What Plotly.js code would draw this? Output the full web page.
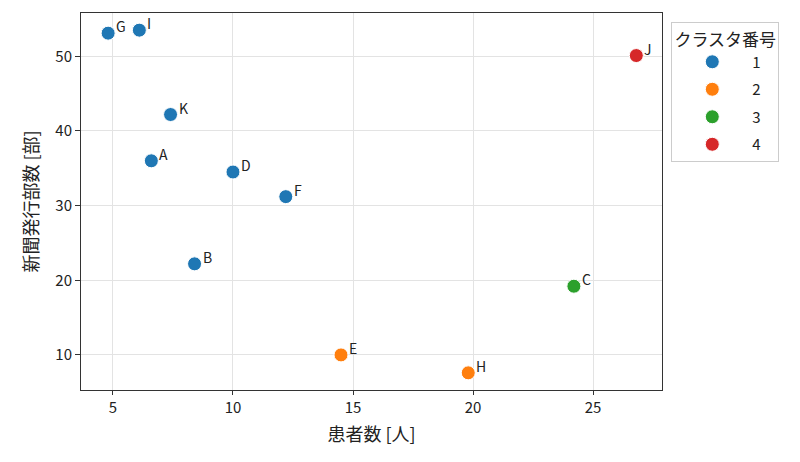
<!DOCTYPE html>
<html>
<head>
<meta charset="utf-8">
<script src="https://cdn.plot.ly/plotly-3.0.1.min.js"></script>
<style>
  body { margin: 0; background: #fff; }
  #chart { width: 800px; height: 462px; }
</style>
</head>
<body>
<div id="chart"></div>
<script>
const names = ['A', 'B', 'C', 'D', 'E', 'F', 'G', 'H', 'I', 'J', 'K'];
const patients = [6.6, 8.4, 24.2, 10.0, 14.5, 12.2, 4.8, 19.8, 6.1, 26.8, 7.4];
const copies = [36.0, 22.2, 19.2, 34.5, 10.0, 31.2, 53.1, 7.6, 53.5, 50.1, 42.2];
const clusters = [1, 1, 3, 1, 2, 1, 1, 2, 1, 4, 1];
const clusterIds = [1, 2, 3, 4];
const clusterColors = ['#1f77b4', '#ff7f0e', '#2ca02c', '#d62728'];

const font = '"Noto Sans CJK JP", "DejaVu Sans", sans-serif';

const traces = clusterIds.map((c, i) => {
  const idx = clusters.map((k, j) => k === c ? j : -1).filter(j => j >= 0);
  return {
    x: idx.map(j => patients[j]),
    y: idx.map(j => copies[j]),
    name: String(c),
    legendgroup: 'g' + c,
    type: 'scatter',
    mode: 'markers',
    cliponaxis: false,
    marker: { color: clusterColors[i], size: 14, line: { color: '#fff', width: 1 } },
  };
});

// point labels, placed just right of and above each marker
const annotations = names.map((n, j) => ({
  x: patients[j],
  y: copies[j],
  text: n,
  showarrow: false,
  xanchor: 'left',
  yanchor: 'middle',
  xshift: 6,
  yshift: 7,
  font: { family: font, size: 14, color: '#222' },
}));

const layout = {
  width: 800,
  height: 462,
  margin: { l: 81, r: 138, t: 13, b: 72 },
  paper_bgcolor: '#fff',
  plot_bgcolor: '#fff',
  font: { family: font, size: 14, color: '#222' },
  showlegend: true,
  annotations: annotations,
  xaxis: {
    range: [3.67, 27.87],
    tickvals: [5, 10, 15, 20, 25],
    showgrid: true,
    gridcolor: '#e3e3e3',
    zeroline: false,
    showline: true,
    linecolor: '#333',
    mirror: true,
    ticks: 'outside',
    ticklen: 4,
    tickcolor: '#333',
    tickfont: { size: 15 },
    title: { text: '患者数 [人]', font: { size: 18 }, standoff: 12 },
  },
  yaxis: {
    range: [5.3, 55.8],
    tickvals: [10, 20, 30, 40, 50],
    showgrid: true,
    gridcolor: '#e3e3e3',
    zeroline: false,
    showline: true,
    linecolor: '#333',
    mirror: true,
    ticks: 'outside',
    ticklen: 5,
    tickcolor: '#333',
    tickfont: { size: 15 },
    title: { text: '新聞発行部数 [部]', font: { size: 18 }, standoff: 12 },
  },
  legend: {
    title: { text: 'クラスタ番号', font: { size: 17 }, side: 'top center' },
    x: 1.016,
    xanchor: 'left',
    y: 0.975,
    yanchor: 'top',
    traceorder: 'grouped',
    tracegroupgap: 5,
    bordercolor: '#ccc',
    borderwidth: 1,
    bgcolor: '#fff',
    font: { size: 15 },
    itemwidth: 70,
    itemsizing: 'trace',
  },
};

Plotly.newPlot('chart', traces, layout, { displayModeBar: false, staticPlot: true });
</script>
</body>
</html>
